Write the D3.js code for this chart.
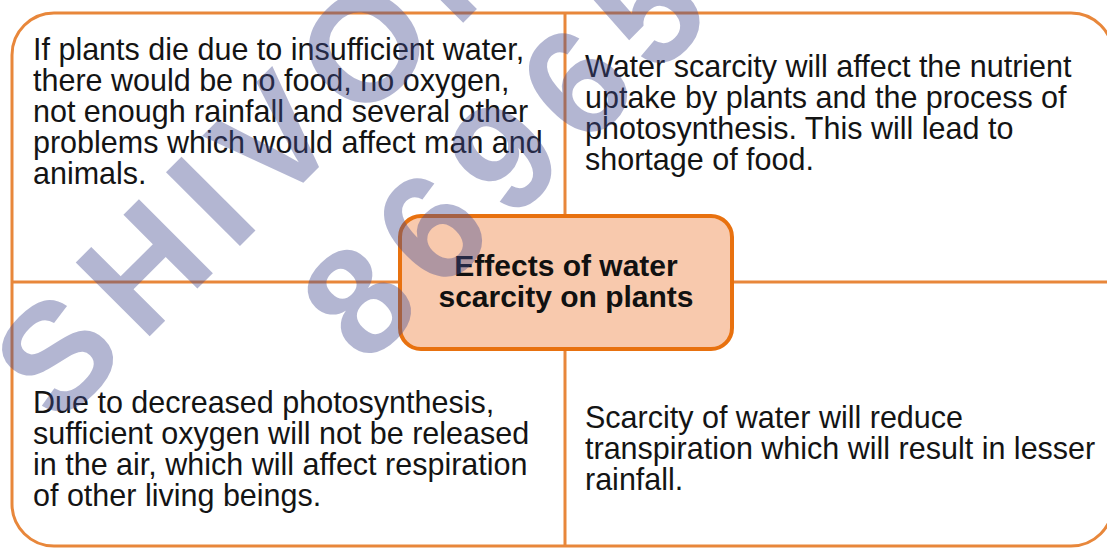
<!DOCTYPE html>
<html>
<head>
<meta charset="utf-8">
<script src="https://cdn.jsdelivr.net/npm/d3@7"></script>
<style>
  body { margin: 0; background: #fff; }
  svg { display: block; }
  .body-text { font-family: "Liberation Sans", Arial, sans-serif; font-size: 30.5px; fill: #141414; }
  .title-text { font-family: "Liberation Sans", Arial, sans-serif; font-size: 30px; font-weight: bold; fill: #111; }
  .mark { font-family: "Liberation Sans", Arial, sans-serif; font-size: 152px; font-weight: bold; fill: #434b91; letter-spacing: 18px; }
</style>
</head>
<body>
<div id="g-container"></div>
<script>

	// quadrant texts, top-left / top-right / bottom-left / bottom-right
	var topLeft = [
		"If plants die due to insufficient water,",
		"there would be no food, no oxygen,",
		"not enough rainfall and several other",
		"problems which would affect man and",
		"animals."
	];
	var topRight = [
		"Water scarcity will affect the nutrient",
		"uptake by plants and the process of",
		"photosynthesis. This will lead to",
		"shortage of food."
	];
	var bottomLeft = [
		"Due to decreased photosynthesis,",
		"sufficient oxygen will not be released",
		"in the air, which will affect respiration",
		"of other living beings."
	];
	var bottomRight = [
		"Scarcity of water will reduce",
		"transpiration which will result in lesser",
		"rainfall."
	];
	var titleLines = ["Effects of water", "scarcity on plants"];
	var watermark = ["SHIVOM CLASSES", "8696508541"];

	var config = {
		"el": "#g-container",
		"width": 1107,
		"height": 548
	};

	var svg = d3.select(config.el).append("svg")
		.attr("width", config.width)
		.attr("height", config.height)

	// frame scales: x/y in page pixels
	var x = d3.scaleLinear().domain([0, 1]).range([12, 1113])
	var y = d3.scaleLinear().domain([0, 1]).range([13, 546])
	var midX = 565, midY = 282;
	var lineY = d3.scaleLinear().domain([0, 1]).range([0, 31])

	var lineColor = "#e8873b";

	svg.append("rect")
		.attr("x", x(0)).attr("y", y(0))
		.attr("width", x(1) - x(0)).attr("height", y(1) - y(0))
		.attr("rx", 42)
		.attr("fill", "#fff")
		.attr("stroke", lineColor)
		.attr("stroke-width", 3)

	svg.append("line")
		.attr("x1", midX).attr("x2", midX)
		.attr("y1", y(0)).attr("y2", y(1))
		.attr("stroke", lineColor).attr("stroke-width", 3)

	svg.append("line")
		.attr("x1", x(0)).attr("x2", x(1))
		.attr("y1", midY).attr("y2", midY)
		.attr("stroke", lineColor).attr("stroke-width", 3)

	var quads = [
		{lines: topLeft, x: 33, y: 60},
		{lines: topRight, x: 585, y: 77},
		{lines: bottomLeft, x: 33, y: 413},
		{lines: bottomRight, x: 585, y: 428}
	];

	quads.forEach(function(q){
		var t = svg.append("text").attr("class", "body-text")
		t.selectAll("tspan").data(q.lines).enter().append("tspan")
			.attr("x", q.x)
			.attr("y", function(d, i){ return q.y + lineY(i); })
			.text(function(d){ return d; })
	})

	// centre box
	var box = {x0: 400, x1: 732, y0: 216, y1: 349};
	svg.append("rect")
		.attr("x", box.x0).attr("y", box.y0)
		.attr("width", box.x1 - box.x0).attr("height", box.y1 - box.y0)
		.attr("rx", 21)
		.attr("fill", "#f8c9ad")
		.attr("stroke", "#e8710f")
		.attr("stroke-width", 4)

	svg.append("text").attr("class", "title-text")
		.attr("text-anchor", "middle")
		.selectAll("tspan").data(titleLines).enter().append("tspan")
		.attr("x", (box.x0 + box.x1) / 2)
		.attr("y", function(d, i){ return 276 + lineY(i); })
		.text(function(d){ return d; })

	// watermark on top, translucent
	var wm = svg.append("g").attr("opacity", 0.4)
	var wmPos = [[58, 428], [366, 368]];
	wm.selectAll("text").data(watermark).enter().append("text")
		.attr("class", "mark")
		.attr("transform", function(d, i){ return "translate(" + wmPos[i][0] + "," + wmPos[i][1] + ") rotate(-45)"; })
		.text(function(d){ return d; })

</script>
</body>
</html>
